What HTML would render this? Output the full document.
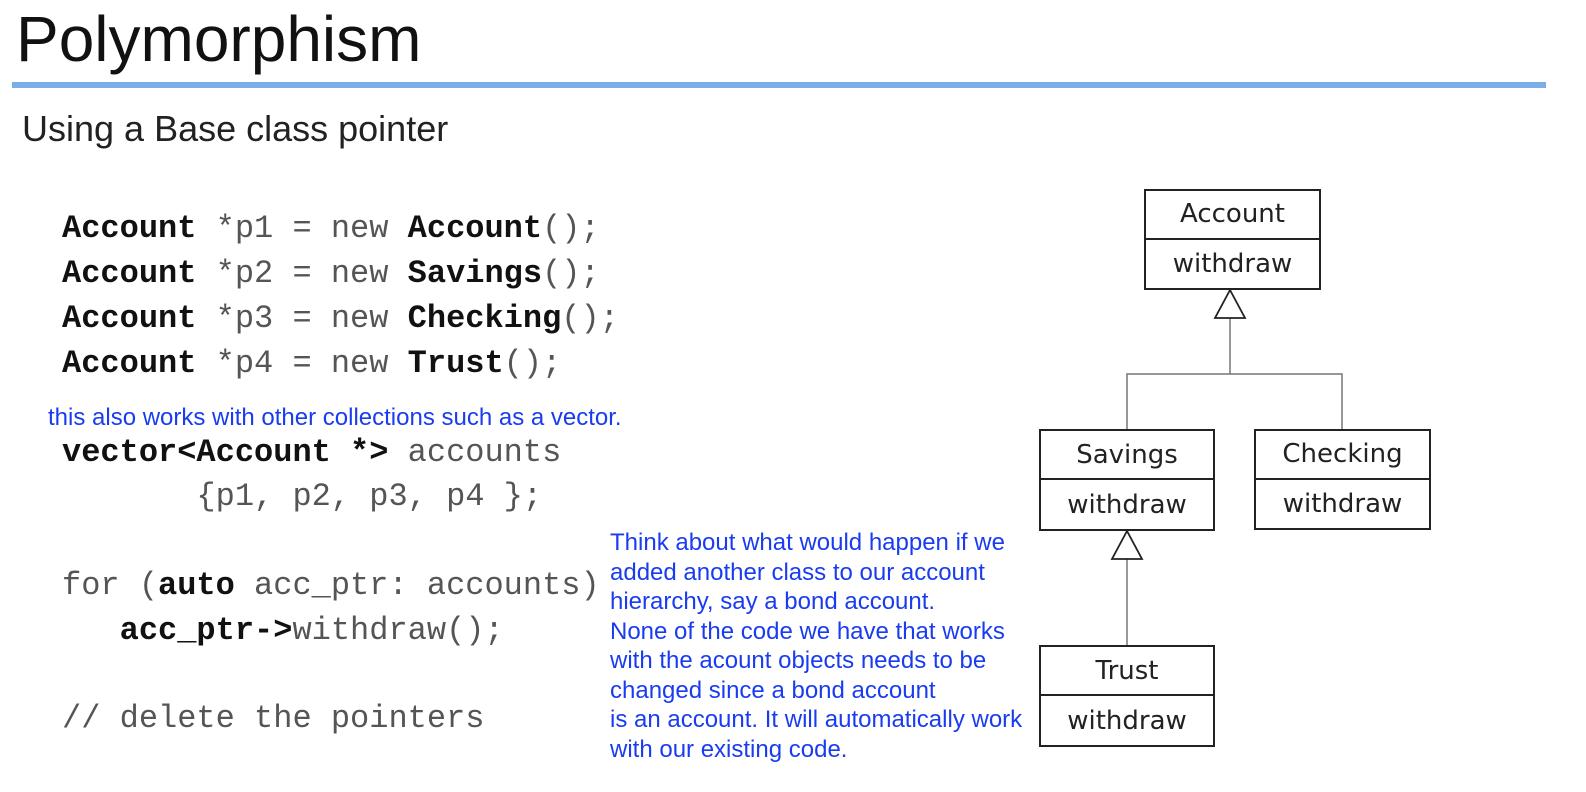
<!DOCTYPE html>
<html><head><meta charset="utf-8"><style>
body{margin:0;width:1586px;height:792px;background:#fff;position:relative;overflow:hidden;font-family:"Liberation Sans",sans-serif}
.a{position:absolute;white-space:pre}
.code{font-family:"Liberation Mono",monospace;font-size:32px;color:#555;line-height:1}
.code b{color:#111}
.blue{color:#1a3cf0;font-size:24px;line-height:29.5px}
.box{position:absolute;border:2.5px solid #222;background:#fff;font-family:"DejaVu Sans",sans-serif;font-size:26px;color:#222;text-align:center;box-sizing:border-box}
.box div{height:50%;display:flex;align-items:center;justify-content:center;box-sizing:border-box}
.box div:first-child{border-bottom:2.5px solid #222}
</style></head><body>
<div class="a" style="left:16px;top:2px;font-size:64px;color:#111">Polymorphism</div>
<div class="a" style="left:12px;top:82px;width:1534px;height:6px;background:#7aaee8"></div>
<div class="a" style="left:22px;top:108px;font-size:36px;color:#222">Using a Base class pointer</div>

<div class="a code" style="left:62px;top:213px"><b>Account</b> *p1 = new <b>Account</b>();</div>
<div class="a code" style="left:62px;top:258px"><b>Account</b> *p2 = new <b>Savings</b>();</div>
<div class="a code" style="left:62px;top:303px"><b>Account</b> *p3 = new <b>Checking</b>();</div>
<div class="a code" style="left:62px;top:348px"><b>Account</b> *p4 = new <b>Trust</b>();</div>

<div class="a blue" style="left:48px;top:403px">this also works with other collections such as a vector.</div>
<div class="a code" style="left:62px;top:437px"><b>vector&lt;Account *&gt;</b> accounts</div>
<div class="a code" style="left:62px;top:481px">       {p1, p2, p3, p4 };</div>
<div class="a code" style="left:62px;top:570px">for (<b>auto</b> acc_ptr: accounts)</div>
<div class="a code" style="left:62px;top:615px">   <b>acc_ptr-&gt;</b>withdraw();</div>
<div class="a code" style="left:62px;top:703px">// delete the pointers</div>

<div class="a blue" style="left:610px;top:528px">Think about what would happen if we
added another class to our account
hierarchy, say a bond account.
None of the code we have that works
with the acount objects needs to be
changed since a bond account
is an account. It will automatically work
with our existing code.</div>

<svg class="a" style="left:0;top:0" width="1586" height="792">
<g stroke="#777" stroke-width="1.5" fill="none">
<polyline points="1230,318 1230,374 1127,374 1127,430"/>
<polyline points="1230,374 1342,374 1342,430"/>
<line x1="1127" y1="559" x2="1127" y2="646"/>
</g>
<g stroke="#222" stroke-width="1.8" fill="#fff">
<polygon points="1230,290 1215,318 1245,318"/>
<polygon points="1127,531 1112,559 1142,559"/>
</g>
</svg>
<div class="box" style="left:1144px;top:189px;width:177px;height:101px"><div>Account</div><div>withdraw</div></div>
<div class="box" style="left:1039px;top:429px;width:176px;height:102px"><div>Savings</div><div>withdraw</div></div>
<div class="box" style="left:1254px;top:429px;width:177px;height:101px"><div>Checking</div><div>withdraw</div></div>
<div class="box" style="left:1039px;top:645px;width:176px;height:102px"><div>Trust</div><div>withdraw</div></div>
</body></html>
